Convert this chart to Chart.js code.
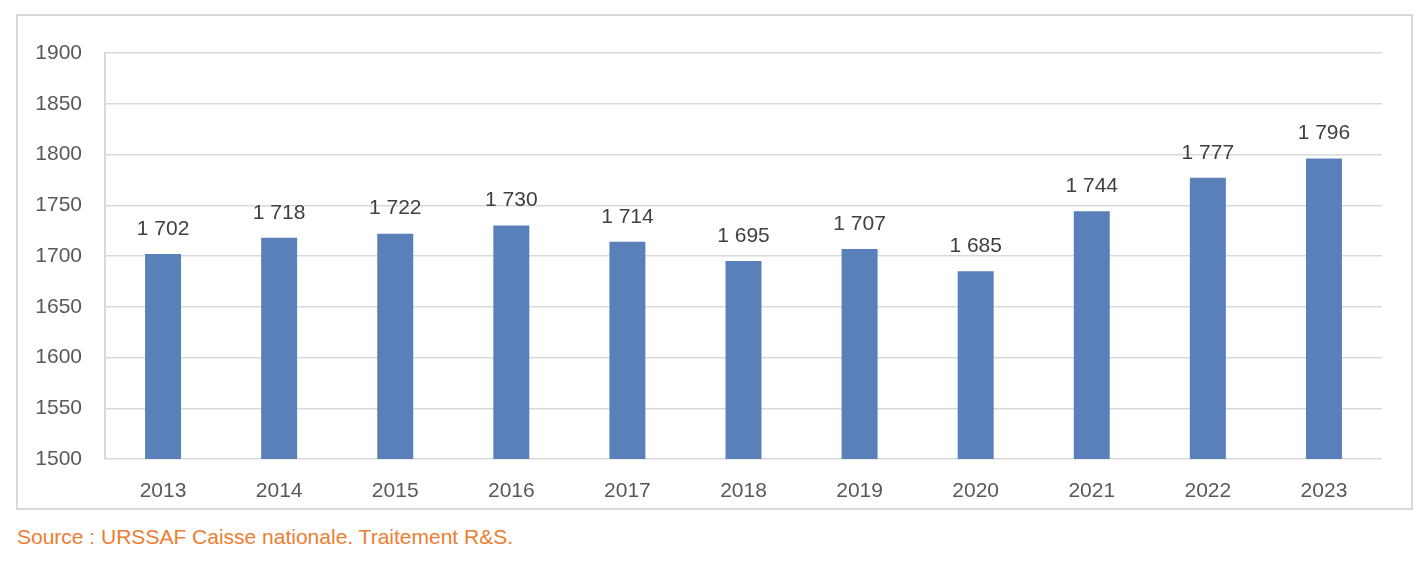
<!DOCTYPE html>
<html>
<head>
<meta charset="utf-8">
<script src="https://cdn.jsdelivr.net/npm/chart.js@4"></script>
<style>
    body { margin: 0; background: #fff; width: 1422px; height: 572px; position: relative; overflow: hidden; }
    #frame { position: absolute; left: 16px; top: 14px; width: 1393px; height: 492px; border: 2px solid #d9d9d9; }
    #wrap { position: absolute; left: 0; top: 0; width: 1422px; height: 510px; }
    #source { position: absolute; left: 17px; top: 525px; font-family: 'Liberation Sans', sans-serif; font-size: 21px; color: #ed7d31; }
</style>
</head>
<body>
<div id="frame"></div>
<div id="wrap"><canvas id="chart"></canvas></div>
<div id="source">Source : URSSAF Caisse nationale. Traitement R&amp;S.</div>
<script>
const years = ['2013', '2014', '2015', '2016', '2017', '2018', '2019', '2020', '2021', '2022', '2023']
const values = [1702, 1718, 1722, 1730, 1714, 1695, 1707, 1685, 1744, 1777, 1796]
const yTicks = [1500, 1550, 1600, 1650, 1700, 1750, 1800, 1850, 1900]

const fontFamily = "'Liberation Sans', sans-serif"

// thousands separated by a space, as in the source
const formatValue = v => String(v).replace(/\B(?=(\d{3})+(?!\d))/g, ' ')

const valueLabels = {
    id: 'valueLabels',
    afterDatasetsDraw(chart) {
        const ctx = chart.ctx
        const meta = chart.getDatasetMeta(0)
        ctx.save()
        ctx.font = '21px ' + fontFamily
        ctx.fillStyle = '#404040'
        ctx.textAlign = 'center'
        ctx.textBaseline = 'middle'
        meta.data.forEach((bar, i) => {
            ctx.fillText(formatValue(values[i]), bar.x, bar.y - 25)
        })
        ctx.restore()
    }
}

new Chart(document.getElementById('chart').getContext('2d'), {
    type: 'bar',
    data: {
        labels: years,
        datasets: [{
            data: values,
            backgroundColor: '#5a80b9',
            barPercentage: 0.31,
            categoryPercentage: 1
        }]
    },
    options: {
        responsive: true,
        maintainAspectRatio: false,
        animation: false,
        layout: {padding: {left: 0, top: 53, right: 40, bottom: 0}},
        plugins: {legend: {display: false}, tooltip: {enabled: false}},
        scales: {
            x: {
                grid: {display: false},
                border: {display: false},
                ticks: {color: '#595959', font: {family: fontFamily, size: 21}, padding: 12},
                afterFit: scale => { scale.height = 510 - 459 }
            },
            y: {
                min: 1500,
                max: 1900,
                afterBuildTicks: scale => { scale.ticks = yTicks.map(v => ({value: v})) },
                grid: {color: '#d9d9d9', lineWidth: 1.5, drawTicks: false},
                border: {display: true, color: '#d9d9d9', width: 2},
                ticks: {
                    color: '#595959',
                    font: {family: fontFamily, size: 21},
                    padding: 23,
                    callback: value => String(value)
                },
                afterFit: scale => { scale.width = 105 }
            }
        }
    },
    plugins: [valueLabels]
})
</script>
</body>
</html>
